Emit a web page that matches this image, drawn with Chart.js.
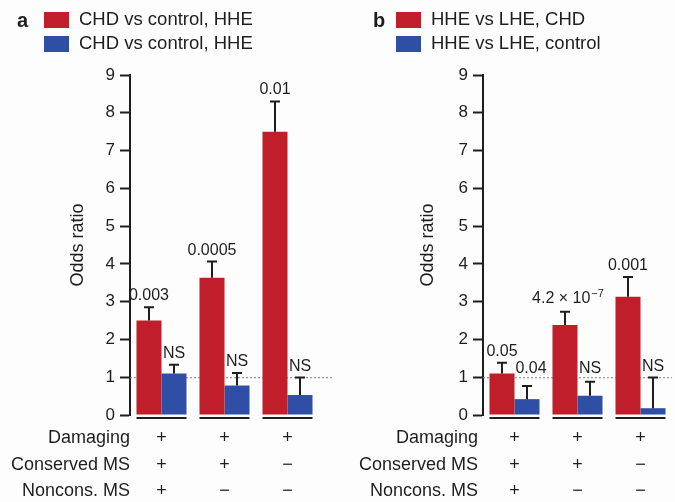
<!DOCTYPE html>
<html>
<head>
<meta charset="utf-8">
<script src="https://cdn.jsdelivr.net/npm/chart.js@4"></script>
<style>
  html, body { margin: 0; padding: 0; background: #fdfdfd; }
  #wrap { position: relative; width: 675px; height: 502px; }
  #wrap canvas { position: absolute; top: 0; }
</style>
</head>
<body>
<div id="wrap">
  <canvas id="chartA" width="340" height="502" style="left:0"></canvas>
  <canvas id="chartB" width="335" height="502" style="left:340px"></canvas>
</div>
<script>
// 데이터: 세 가지 변이 조합
const groups = ['1', '2', '3'];
const rowLabels = ['Damaging', 'Conserved MS', 'Noncons. MS'];
const damaging = ['+', '+', '+'];
const conservedMS = ['+', '+', '\u2212'];
const nonconsMS = ['+', '\u2212', '\u2212'];

// 패널 a
const aRedLabel = 'CHD vs control, HHE';
const aBlueLabel = 'CHD vs control, HHE';
const aRed = [2.5, 3.63, 7.5];
const aRedErr = [2.85, 4.06, 8.3];
const aBlue = [1.1, 0.78, 0.53];
const aBlueErr = [1.33, 1.11, 0.99];
const aRedP = ['0.003', '0.0005', '0.01'];
const aBlueP = ['NS', 'NS', 'NS'];

// 패널 b
const bRedLabel = 'HHE vs LHE, CHD';
const bBlueLabel = 'HHE vs LHE, control';
const bRed = [1.1, 2.38, 3.13];
const bRedErr = [1.38, 2.73, 3.65];
const bBlue = [0.42, 0.51, 0.18];
const bBlueErr = [0.77, 0.88, 0.99];
const bRedP = ['0.05', '4.2 \u00d7 10^\u22127', '0.001'];
const bBlueP = ['0.04', 'NS', 'NS'];

const yTicks = [0, 1, 2, 3, 4, 5, 6, 7, 8, 9];

const FONT = "'Liberation Sans', Arial, Helvetica, sans-serif";
const RED = '#bf1e2a';
const BLUE = '#2f4fa6';
const INK = '#1e1e1e';

// p값 라벨 (위첨자 지원)
function drawPLabel(ctx, text, x, y) {
  ctx.fillStyle = INK;
  ctx.textBaseline = 'alphabetic';
  const parts = text.split('^');
  ctx.font = `16px ${FONT}`;
  if (parts.length === 1) {
    ctx.textAlign = 'center';
    ctx.fillText(text, x, y);
    return;
  }
  const w1 = ctx.measureText(parts[0]).width;
  ctx.font = `11px ${FONT}`;
  const w2 = ctx.measureText(parts[1]).width;
  const start = x - (w1 + w2 + 1) / 2;
  ctx.textAlign = 'left';
  ctx.font = `16px ${FONT}`;
  ctx.fillText(parts[0], start, y);
  ctx.font = `11px ${FONT}`;
  ctx.fillText(parts[1], start + w1 + 1, y - 6);
}

function panelPlugin(cfg) {
  return {
    id: 'panel' + cfg.letter,
    beforeDatasetsDraw(chart) {
      const { ctx, chartArea, scales } = chart;
      const y1 = scales.y.getPixelForValue(1);
      ctx.save();
      ctx.strokeStyle = '#808080';
      ctx.lineWidth = 1;
      ctx.setLineDash([2, 2]);
      ctx.beginPath();
      ctx.moveTo(chartArea.left, y1 + 0.5);
      ctx.lineTo(chartArea.right + cfg.dashExt, y1 + 0.5);
      ctx.stroke();
      ctx.restore();
    },
    afterDatasetsDraw(chart) {
      const { ctx, chartArea, scales } = chart;
      ctx.save();
      // 에러바 + p값
      chart.data.datasets.forEach((ds, d) => {
        const meta = chart.getDatasetMeta(d);
        meta.data.forEach((bar, i) => {
          const top = scales.y.getPixelForValue(ds.errTop[i]);
          ctx.strokeStyle = INK;
          ctx.lineWidth = 2;
          ctx.beginPath();
          ctx.moveTo(bar.x, bar.y);
          ctx.lineTo(bar.x, top);
          ctx.moveTo(bar.x - 5, top);
          ctx.lineTo(bar.x + 5, top);
          ctx.stroke();
          const nudge = (cfg.nudge[d] && cfg.nudge[d][i]) || [0, 0];
          drawPLabel(ctx, ds.pLabels[i], bar.x + nudge[0], top - 7 + nudge[1]);
        });
      });
      // 그룹 밑줄
      const red = chart.getDatasetMeta(0).data;
      const blue = chart.getDatasetMeta(1).data;
      ctx.strokeStyle = INK;
      ctx.lineWidth = 2;
      red.forEach((bar, i) => {
        ctx.beginPath();
        ctx.moveTo(bar.x - bar.width / 2, chartArea.bottom + 3);
        ctx.lineTo(blue[i].x + blue[i].width / 2, chartArea.bottom + 3);
        ctx.stroke();
      });
      // 조합 표
      const rows = [damaging, conservedMS, nonconsMS];
      const rowY = [438, 465, 491];
      ctx.fillStyle = INK;
      ctx.textBaseline = 'middle';
      ctx.font = `18px ${FONT}`;
      rows.forEach((row, r) => {
        ctx.textAlign = 'right';
        ctx.fillText(rowLabels[r], cfg.rowLabelX, rowY[r]);
        ctx.textAlign = 'center';
        row.forEach((s, i) => {
          ctx.fillText(s, scales.x.getPixelForValue(i), rowY[r]);
        });
      });
      // 범례
      ctx.font = `bold 20px ${FONT}`;
      ctx.textAlign = 'left';
      ctx.textBaseline = 'alphabetic';
      ctx.fillText(cfg.letter, cfg.letterX, 27);
      ctx.font = `18.5px ${FONT}`;
      ctx.textBaseline = 'middle';
      chart.data.datasets.forEach((ds, d) => {
        const y = 20 + d * 24;
        ctx.fillStyle = ds.backgroundColor;
        ctx.fillRect(cfg.legendX, y - 8, 25, 16);
        ctx.fillStyle = INK;
        ctx.fillText(ds.label, cfg.legendX + 35, y);
      });
      ctx.restore();
    }
  };
}

function makePanel(id, cfg) {
  new Chart(document.getElementById(id), {
    type: 'bar',
    data: {
      labels: groups,
      datasets: [
        { label: cfg.redLabel, data: cfg.red, errTop: cfg.redErr, pLabels: cfg.redP, backgroundColor: RED },
        { label: cfg.blueLabel, data: cfg.blue, errTop: cfg.blueErr, pLabels: cfg.blueP, backgroundColor: BLUE }
      ]
    },
    options: {
      responsive: false,
      animation: false,
      layout: { padding: { left: 0, right: cfg.padRight, top: 75, bottom: 87 } },
      datasets: { bar: { categoryPercentage: 0.794, barPercentage: 1.0 } },
      plugins: { legend: { display: false }, tooltip: { enabled: false } },
      scales: {
        x: { display: false },
        y: {
          min: 0,
          max: 9,
          afterBuildTicks: (s) => { s.ticks = yTicks.map(v => ({ value: v })); },
          afterFit: (s) => { s.width = cfg.axisLeft; },
          ticks: { color: INK, font: { size: 17, family: FONT }, padding: 5 },
          grid: { drawOnChartArea: false, drawTicks: true, tickLength: 10, tickColor: INK, tickWidth: 2 },
          border: { display: true, color: INK, width: 2 },
          title: {
            display: true,
            text: 'Odds ratio',
            color: INK,
            font: { size: 18, family: FONT },
            padding: { top: cfg.titlePad, bottom: 0 }
          }
        }
      }
    },
    plugins: [panelPlugin(cfg)]
  });
}

makePanel('chartA', {
  letter: 'a', letterX: 17, legendX: 44,
  redLabel: aRedLabel, blueLabel: aBlueLabel,
  red: aRed, redErr: aRedErr, redP: aRedP,
  blue: aBlue, blueErr: aBlueErr, blueP: aBlueP,
  axisLeft: 130, padRight: 21, titlePad: 67, dashExt: 13,
  rowLabelX: 130, nudge: {}
});

makePanel('chartB', {
  letter: 'b', letterX: 33, legendX: 56,
  redLabel: bRedLabel, blueLabel: bBlueLabel,
  red: bRed, redErr: bRedErr, redP: bRedP,
  blue: bBlue, blueErr: bBlueErr, blueP: bBlueP,
  axisLeft: 143, padRight: 3, titlePad: 77, dashExt: 0,
  rowLabelX: 138, nudge: { 0: { 1: [3, -2] }, 1: { 0: [4, -6], 1: [0, -2] } }
});
</script>
</body>
</html>
